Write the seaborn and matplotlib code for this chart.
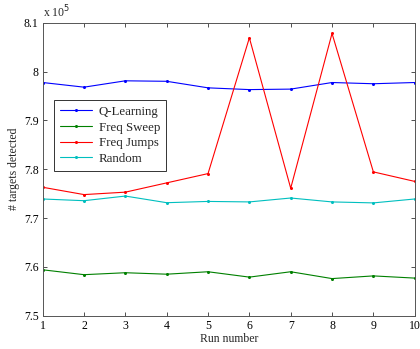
import matplotlib
matplotlib.use("Agg")
import matplotlib.pyplot as plt
import seaborn as sns
import pandas as pd
from matplotlib.ticker import FuncFormatter

runs = [1, 2, 3, 4, 5, 6, 7, 8, 9, 10]
q_learning = [797750, 796800, 798100, 798000, 796660, 796300, 796400, 797750, 797500, 797750]
freq_sweep = [759400, 758400, 758800, 758500, 759000, 757900, 759000, 757600, 758150, 757700]
freq_jumps = [776300, 774800, 775300, 777200, 779100, 806900, 776100, 807800, 779450, 777500]
random_ = [773900, 773550, 774500, 773140, 773400, 773300, 774100, 773300, 773100, 773900]

series_names = ["Q-Learning", "Freq Sweep", "Freq Jumps", "Random"]
series_vals = [q_learning, freq_sweep, freq_jumps, random_]
colors = ["#0000ff", "#008000", "#ff0000", "#00bfbf"]

df = pd.concat([pd.DataFrame({"Run": runs, "Targets": v, "Method": n})
                for n, v in zip(series_names, series_vals)], ignore_index=True)

sns.set_style("white")
plt.rcParams["font.family"] = ["Liberation Serif", "DejaVu Serif"]

fig = plt.figure(figsize=(4.2, 3.49), dpi=100)
ax = fig.add_axes([42.7 / 420, 1 - 315.7 / 349, (414.7 - 42.7) / 420, (315.7 - 22.7) / 349])

sns.lineplot(data=df, x="Run", y="Targets", hue="Method", palette=colors,
             hue_order=series_names, marker="o", markersize=2.2, markeredgewidth=0,
             linewidth=0.8, ax=ax)

ax.set_xlim(1, 10)
ax.set_ylim(750000, 810000)
ax.set_xticks(runs)
ax.set_yticks([750000, 760000, 770000, 780000, 790000, 800000, 810000])
ax.yaxis.set_major_formatter(FuncFormatter(lambda v, p: f"{v/1e5:g}"))
ax.tick_params(direction="in", length=3, width=0.6, colors="#333333",
               labelcolor="black", labelsize=8.5, top=True, right=True,
               bottom=True, left=True, pad=3)
for s in ax.spines.values():
    s.set_color("#555555")
    s.set_linewidth(0.7)

ax.set_xlabel("Run number", fontsize=8.5, labelpad=1)
ax.set_ylabel("# targets detected", fontsize=8.5, labelpad=3)
ax.text(0, 1.008, r"x 10$^5$", transform=ax.transAxes, fontsize=8.5,
        ha="left", va="bottom")

leg = ax.legend(loc="upper left", bbox_to_anchor=(11.3 / 372, 1 - 77.3 / 293),
                fontsize=9.3, frameon=True, fancybox=False, framealpha=1,
                edgecolor="#333333", borderpad=0.45, labelspacing=0.28,
                handlelength=2.5, handletextpad=0.5, borderaxespad=0)
leg.get_frame().set_linewidth(0.7)

fig.savefig("out.png", dpi=100)
